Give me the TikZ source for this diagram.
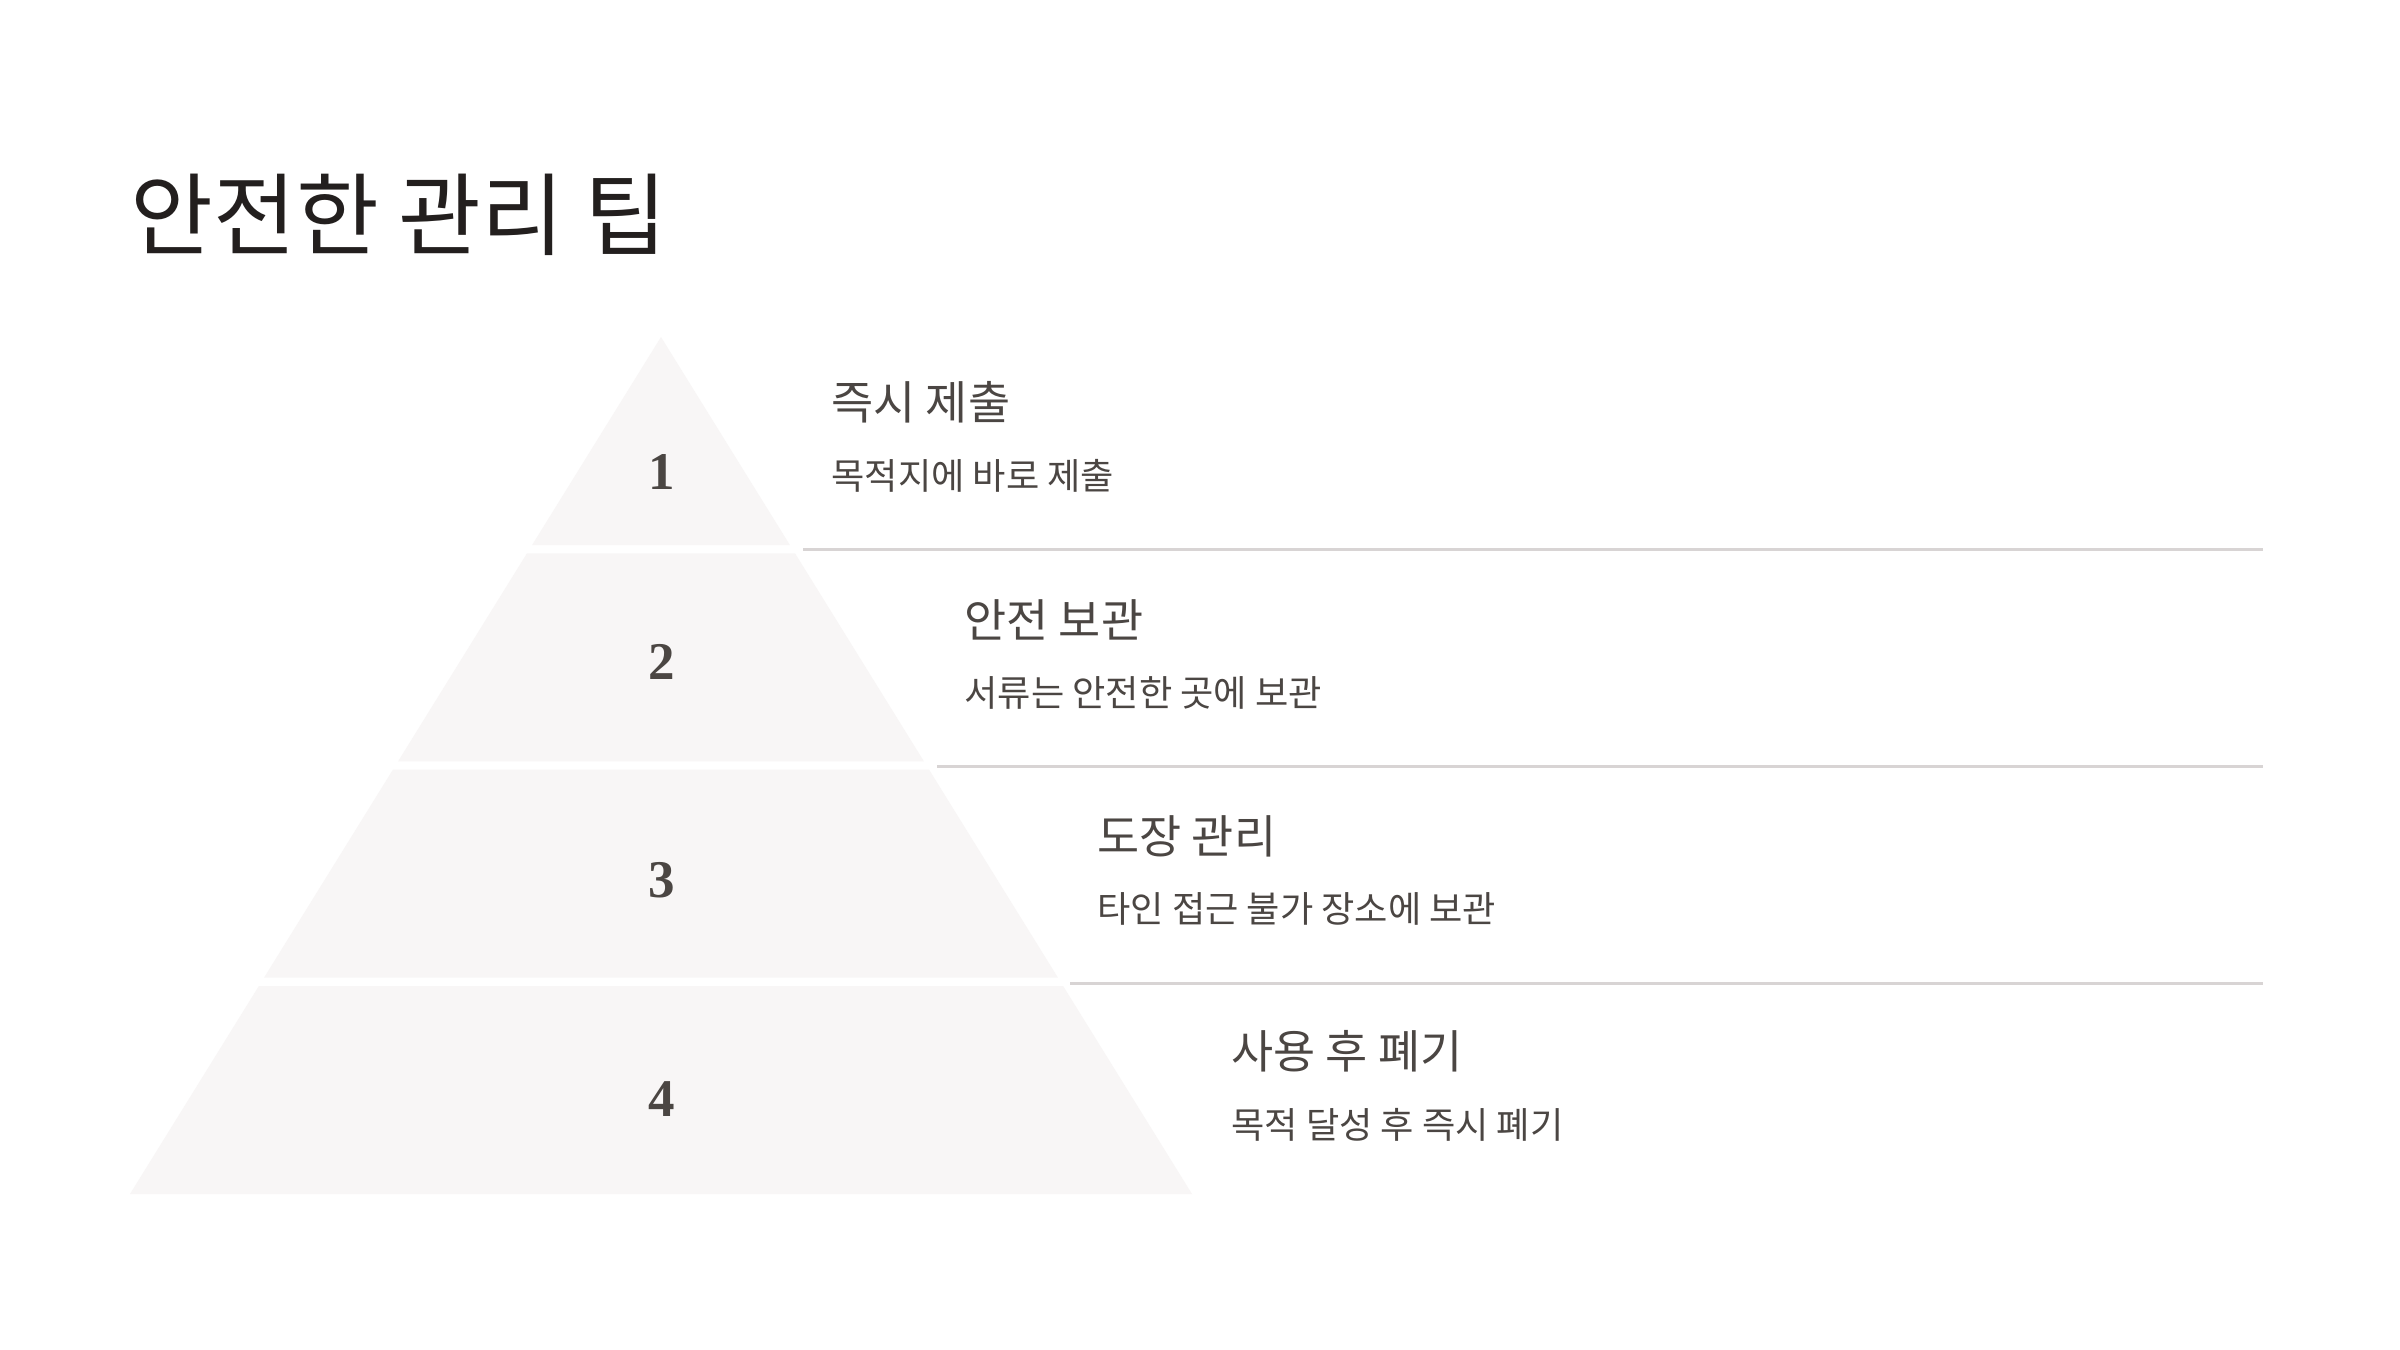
\documentclass[tikz,border=0pt]{standalone}
\usepackage{fontspec}
\newfontfamily\kr{Noto Sans CJK KR}
\newfontfamily\numfont{Liberation Serif}
\definecolor{tierfill}{HTML}{F8F6F6}
\definecolor{rulegray}{HTML}{D8D4D4}
\definecolor{titlecol}{HTML}{231F1E}
\definecolor{textcol}{HTML}{4B4643}
\tikzset{
  tier/.style={fill=tierfill, draw=none},
  sep/.style={draw=rulegray, line width=1.5pt},
  num/.style={font=\numfont\bfseries\fontsize{26.5}{26.5}\selectfont, text=textcol, anchor=center, inner sep=0pt},
  head/.style={font=\kr\fontsize{22.9}{22.9}\selectfont, text=textcol, anchor=west, inner sep=0pt},
  sub/.style={font=\kr\fontsize{18.1}{18.1}\selectfont, text=textcol, anchor=west, inner sep=0pt},
  ttl/.style={font=\kr\fontsize{45}{45}\selectfont, text=titlecol, anchor=west, inner sep=0pt}
}
\begin{document}
\begin{tikzpicture}[x=0.5pt,y=-0.5pt]
\useasboundingbox (0,0) rectangle (2400,1350);
\fill[white] (0,0) rectangle (2400,1350);
% pyramid: apex (661,337), slope 0.6196 per px
\def\s{0.6196}
\foreach \t/\b in {337/545, 553.3/761.3, 769.7/977.7, 986/1194}{
  \fill[tier] ({661-(\t-337)*\s},\t) -- ({661+(\t-337)*\s},\t) -- ({661+(\b-337)*\s},\b) -- ({661-(\b-337)*\s},\b) -- cycle;
}
\node[ttl] (title) at (130,215) {안전한 관리 팁};
% numbers
\node[num] (n1) at (662,472) {1};
\node[num] (n2) at (662,662) {2};
\node[num] (n3) at (662,880) {3};
\node[num] (n4) at (662,1099) {4};
% separators
\coordinate (s1a) at (803,549); \coordinate (s1b) at (2263,549);
\coordinate (s2a) at (937,766); \coordinate (s2b) at (2263,766);
\coordinate (s3a) at (1070,983); \coordinate (s3b) at (2263,983);
\draw[sep] (s1a) -- (s1b);
\draw[sep] (s2a) -- (s2b);
\draw[sep] (s3a) -- (s3b);
% texts
\node[head] (h1) at (831,402) {즉시 제출};
\node[sub] (d1) at (831,476) {목적지에 바로 제출};
\node[head] (h2) at (964,620) {안전 보관};
\node[sub] (d2) at (964,693) {서류는 안전한 곳에 보관};
\node[head] (h3) at (1097,836) {도장 관리};
\node[sub] (d3) at (1097,909) {타인 접근 불가 장소에 보관};
\node[head] (h4) at (1231,1051) {사용 후 폐기};
\node[sub] (d4) at (1231,1125) {목적 달성 후 즉시 폐기};
\end{tikzpicture}
\end{document}
